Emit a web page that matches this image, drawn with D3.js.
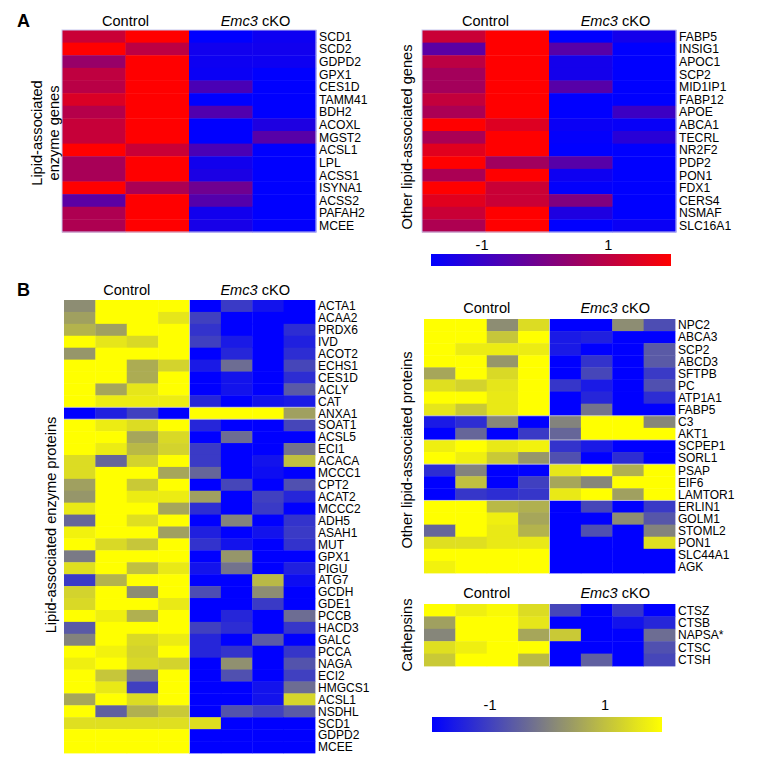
<!DOCTYPE html>
<html><head><meta charset="utf-8">
<script src="https://cdn.jsdelivr.net/npm/d3@7"></script>
<style>body{margin:0;background:#fff;} text{font-family:"Liberation Sans",Arial,Helvetica,sans-serif;fill:#000;}</style>
</head><body><svg id="c" width="764" height="760"></svg>
<script>
// ---------- DATA ----------
const groupLabels = ["Control", "Emc3 cKO"];
const colorTicks = [-1, 1];

// Panel A: lipid-associated enzyme genes (Control x2, Emc3 cKO x2)
const aEnzymeGenes = ["SCD1","SCD2","GDPD2","GPX1","CES1D","TAMM41","BDH2","ACOXL","MGST2","ACSL1","LPL","ACSS1","ISYNA1","ACSS2","PAFAH2","MCEE"];
const aEnzymeValues = [
  [1.2, 2, -1.8, -1.6],
  [2, 1.0, -1.55, -1.55],
  [0.45, 2, -1.6, -1.6],
  [1.05, 2, -1.65, -1.8],
  [0.95, 2, -0.7, -1.8],
  [1.45, 2, -1.8, -1.8],
  [0.9, 2, -0.6, -1.8],
  [1.15, 2, -1.8, -1.35],
  [1.15, 2, -1.8, -0.5],
  [2, 1.2, -0.7, -1.8],
  [0.7, 2, -1.55, -1.8],
  [0.7, 2, -1.4, -1.8],
  [2, 0.75, -0.15, -1.8],
  [-0.45, 2, -0.55, -1.8],
  [0.8, 2, -1.55, -1.8],
  [0.8, 2, -1.45, -1.75]
];

// Panel A: other lipid-associated genes
const aOtherGenes = ["FABP5","INSIG1","APOC1","SCP2","MID1IP1","FABP12","APOE","ABCA1","TECRL","NR2F2","PDP2","PON1","FDX1","CERS4","NSMAF","SLC16A1"];
const aOtherValues = [
  [1.2, 2, -1.8, -1.5],
  [-0.45, 2, -0.5, -1.8],
  [1.0, 2, -1.5, -1.8],
  [0.65, 2, -1.5, -1.8],
  [0.65, 2, -0.5, -1.8],
  [1.1, 2, -1.8, -1.8],
  [0.75, 2, -1.8, -0.9],
  [2, 1.5, -1.65, -1.7],
  [0.75, 2, -1.75, -1.2],
  [1.55, 2, -1.8, -1.8],
  [2, 0.6, -0.5, -1.8],
  [0.75, 2, -1.6, -1.8],
  [2, 1.2, -1.75, -1.8],
  [1.55, 1.2, 0.1, -1.8],
  [1.2, 2, -1.35, -1.8],
  [0.8, 2, -1.8, -1.65]
];

// Panel B: lipid-associated enzyme proteins (Control x4, Emc3 cKO x4)
const bEnzymeProteins = ["ACTA1","ACAA2","PRDX6","IVD","ACOT2","ECHS1","CES1D","ACLY","CAT","ANXA1","SOAT1","ACSL5","ECI1","ACACA","MCCC1","CPT2","ACAT2","MCCC2","ADH5","ASAH1","MUT","GPX1","PIGU","ATG7","GCDH","GDE1","PCCB","HACD3","GALC","PCCA","NAGA","ECI2","HMGCS1","ACSL1","NSDHL","SCD1","GDPD2","MCEE"];
const bEnzymeValues = [
  [0.2, 2, 2, 2, -2, -1.1, -1.7, -2],
  [0.5, 2, 2, 1.6, -1.0, -2, -2, -2],
  [0.8, 0.5, 2, 2, -1.2, -2, -2, -1.3],
  [2, 1.6, 1.4, 2, -1.0, -1.6, -2, -1.5],
  [0.35, 2, 2, 2, -2, -1.4, -2, -1.3],
  [2, 2, 0.7, 1.3, -1.6, -0.3, -2, -0.9],
  [2, 2, 0.7, 2, -2, -1.7, -2, -1.3],
  [2, 0.6, 1.6, 2, -2, -1.7, -2, -0.6],
  [2, 1.7, 1.7, 1.7, -1.4, -2, -1.7, -1.6],
  [-2, -1.5, -1.0, -2, 2, 2, 2, 0.5],
  [2, 1.7, 1.45, 2, -1.4, -2, -2, -0.9],
  [2, 2, 0.6, 1.4, -2, -0.3, -2, -2],
  [2, 1.7, 0.9, 1.3, -1.1, -2, -2, -0.2],
  [1.45, -0.4, 1.3, 2, -1.1, -2, -1.7, 1.0],
  [1.45, 2, 2, 0.6, -0.4, -2, -1.8, -2],
  [0.5, 2, 1.15, 2, -2, -0.9, -2, -0.75],
  [0.35, 2, 1.7, 1.7, 0.5, -2, -1.0, -1.4],
  [1.65, 2, 2, 0.6, -1.3, -2, -1.1, -2],
  [-0.4, 2, 1.5, 2, -2, 0.05, -2, -1.2],
  [1.8, 2, 2, 0.5, -1.5, -2, -1.7, -1.1],
  [2, 1.4, 1.1, 2, -1.2, -1.7, -2, -1.2],
  [-0.1, 2, 2, 2, -2, 0.35, -2, -2],
  [1.5, 2, 1.0, 1.65, -1.7, -0.2, -2, -1.5],
  [-1.1, 0.8, 2, 2, -2, -2, 0.9, -1.8],
  [1.3, 2, 0.2, 2, -0.8, -2, 0.2, -2],
  [1.4, 2, 2, 1.65, -2, -2, -1.1, -2],
  [2, 1.75, 0.75, 2, -2, -1.4, -2, -0.3],
  [-0.6, 2, 2, 2, -1.0, -1.3, -2, -1.15],
  [0.05, 2, 1.4, 1.7, -1.4, -2, -0.6, -2],
  [2, 1.8, 1.3, 2, -1.4, -1.2, -2, -1.15],
  [1.75, 2, 1.4, 1.3, -2, 0.25, -2, -0.7],
  [2, 1.1, -0.1, 2, -2, -0.75, -2, -1.0],
  [2, 1.65, -1.0, 2, -2, -2, -1.7, -0.3],
  [0.6, 2, 1.45, 2, -2, -2, -1.7, 1.35],
  [2, -0.5, 0.75, 1.15, -2, -0.7, -1.0, -0.6],
  [1.5, 1.5, 1.5, 1.5, 1.5, -2, -2, -2],
  [2, 2, 2, 2, -2, -2, -2, -2],
  [2, 2, 2, 2, -2, -2, -2, -2]
];
const bEnzymeBreaks = [9, 10];

// Panel B: other lipid-associated proteins
const bOtherProteins = ["NPC2","ABCA3","SCP2","ABCD3","SFTPB","PC","ATP1A1","FABP5","C3","AKT1","SCPEP1","SORL1","PSAP","EIF6","LAMTOR1","ERLIN1","GOLM1","STOML2","PON1","SLC44A1","AGK"];
const bOtherValues = [
  [2, 2, 0.2, 1.45, -2, -2, 0.2, -0.8],
  [2, 2, 1.1, 2, -1.6, -1.5, -2, -2],
  [2, 1.7, 1.7, 1.7, -1.6, -2, -2, -0.6],
  [2, 2, 0.35, 2, -2, -1.2, -2, -0.6],
  [0.6, 2, 1.4, 2, -2, -0.9, -2, -1.1],
  [1.5, 1.3, 1.6, 2, -1.15, -1.6, -2, -0.75],
  [2, 2, 1.65, 2, -2, -1.4, -2, -1.3],
  [1.6, 1.15, 1.65, 2, -2, -0.2, -2, -2],
  [-1.6, -1.3, 0.1, -2, 0.05, 2, 2, 0.1],
  [-2, -0.4, -2, -1.1, -0.4, 2, 2, 2],
  [1.75, 2, 1.65, 1.8, -1.2, -1.6, -2, -2],
  [2, 1.75, 1.15, 0.35, -0.75, -2, -1.3, -2],
  [-1.3, 0.05, -2, -2, 1.6, 2, 0.75, 2],
  [-2, 1.0, -2, -1.0, 0.6, 0.1, 2, 2],
  [-2, -1.15, -1.3, -1.15, 1.65, 2, 0.5, 2],
  [2, 2, 0.9, 0.75, -2, -0.9, -2, -1.1],
  [2, 2, 1.75, 0.6, -2, -2, 0.2, -0.65],
  [-0.4, 2, 1.65, 0.8, -2, -0.75, -2, 0.05],
  [1.5, 1.5, 1.65, 1.65, -2, -2, -2, 1.5],
  [2, 2, 2, 2, -2, -2, -2, -2],
  [1.8, 2, 2, 2, -2, -2, -2, -2]
];
const bOtherBreaks = [8, 10, 12, 15];

// Panel B: cathepsins
const bCathepsins = ["CTSZ","CTSB","NAPSA*","CTSC","CTSH"];
const bCathepsinValues = [
  [2, 1.75, 1.9, 1.45, -0.9, -2, -1.15, -2],
  [0.5, 2, 2, 1.6, -2, -2, -1.7, -1.4],
  [0.1, 2, 2, 0.6, 1.15, -2, -2, -0.3],
  [1.5, 1.75, 2, 2, -2, -2, -2, -0.75],
  [1.15, 2, 2, 0.9, -2, -0.5, -2, -0.9]
];

// ---------- DRAWING ----------
const svg = d3.select("#c");
const colorA = d3.scaleLinear().domain([-1.8, 2]).range(["#0000ff", "#ff0000"])
  .interpolate(d3.interpolateRgb).clamp(true);
const colorB = d3.scaleLinear().domain([-2, 0, 2]).range(["#0000ff", "#808080", "#ffff00"])
  .interpolate(d3.interpolateRgb).clamp(true);

function heatmap(o) {
  const g = svg.append("g");
  const nCols = o.values[0].length;
  const xs = d3.scaleBand().domain(d3.range(nCols)).range([o.x0, o.x1]);
  const ys = d3.scaleBand().domain(o.rows).range([o.y0, o.y1]);
  const cells = [];
  o.rows.forEach((r, i) => o.values[i].forEach((v, j) => cells.push({r, j, v})));
  g.selectAll("rect.cell").data(cells).join("rect")
    .attr("class", "cell")
    .attr("x", d => xs(d.j)).attr("y", d => ys(d.r))
    .attr("width", xs.bandwidth() + 0.4).attr("height", ys.bandwidth() + 0.4)
    .attr("fill", d => o.color(d.v));
  // cluster dividers
  const div = g.append("g").attr("stroke", o.divColor).attr("stroke-width", 1).attr("opacity", 0.8);
  (o.breaks || []).forEach(b => {
    const y = o.y0 + b * ys.step();
    div.append("line").attr("x1", o.x0).attr("x2", o.x1).attr("y1", y).attr("y2", y);
  });
  if (o.colBreak) {
    const x = xs(nCols / 2);
    div.append("line").attr("x1", x).attr("x2", x).attr("y1", o.y0).attr("y2", o.y1);
  }
  if (o.outline) {
    g.append("rect").attr("x", o.x0).attr("y", o.y0).attr("width", o.x1 - o.x0).attr("height", o.y1 - o.y0)
      .attr("fill", "none").attr("stroke", o.outline).attr("stroke-width", 1);
  }
  // row labels
  g.selectAll("text.row").data(o.rows).join("text")
    .attr("class", "row")
    .attr("x", o.x1 + 3).attr("y", d => ys(d) + ys.bandwidth() / 2)
    .attr("dy", "0.36em").attr("font-size", o.labelSize)
    .text(d => d);
  // group titles
  const w = o.x1 - o.x0;
  g.append("text").attr("x", o.x0 + w / 4).attr("y", o.titleY).attr("text-anchor", "middle")
    .attr("font-size", 14.6).text(groupLabels[0]);
  const parts = groupLabels[1].split(" ");
  const t = g.append("text").attr("x", o.x0 + 3 * w / 4 + 3).attr("y", o.titleY).attr("text-anchor", "middle")
    .attr("font-size", 14.6);
  t.append("tspan").attr("font-style", "italic").text(parts[0]);
  t.append("tspan").text(" " + parts.slice(1).join(" "));
  // side label
  if (o.side) {
    const st = g.append("text").attr("transform", `translate(${o.side.x},${o.side.y}) rotate(-90)`)
      .attr("text-anchor", "middle").attr("font-size", 14.6);
    o.side.lines.forEach((l, i) => st.append("tspan").attr("x", 0).attr("dy", i === 0 ? 0 : "1.15em").text(l));
  }
}

function colorbar(color, domain, x0, x1, y0, h, labelY, id) {
  const defs = svg.append("defs");
  const grad = defs.append("linearGradient").attr("id", id).attr("x1", "0%").attr("x2", "100%");
  d3.range(0, 1.0001, 0.05).forEach(t => {
    grad.append("stop").attr("offset", (t * 100) + "%").attr("stop-color", color(domain[0] + t * (domain[1] - domain[0])));
  });
  svg.append("rect").attr("x", x0).attr("y", y0).attr("width", x1 - x0).attr("height", h).attr("fill", `url(#${id})`);
  const sc = d3.scaleLinear().domain(domain).range([x0, x1]);
  const ax = svg.append("g").attr("transform", `translate(0,${labelY + 3})`)
    .call(d3.axisTop(sc).tickValues(colorTicks).tickSize(0).tickPadding(3).tickFormat(d => String(d)));
  ax.select(".domain").remove();
  ax.selectAll("text").attr("font-size", 14.5).attr("font-family", '"Liberation Sans",Arial,sans-serif').attr("fill", "#000");
}

// Panel letters
svg.append("text").attr("x", 17).attr("y", 27).attr("font-size", 18).attr("font-weight", "bold").text("A");
svg.append("text").attr("x", 17).attr("y", 296).attr("font-size", 18).attr("font-weight", "bold").text("B");

heatmap({x0: 62, x1: 316, y0: 30, y1: 232, rows: aEnzymeGenes, values: aEnzymeValues, color: colorA,
  labelSize: 12.2, titleY: 26, outline: "#c8c8f0", divColor: "#ddd",
  side: {x: 42, y: 133, lines: ["Lipid-associated", "enzyme genes"]}});
heatmap({x0: 422, x1: 676, y0: 30, y1: 232, rows: aOtherGenes, values: aOtherValues, color: colorA,
  labelSize: 12.2, titleY: 26, outline: "#c8c8f0", divColor: "#ddd",
  side: {x: 412, y: 137, lines: ["Other lipid-associated genes"]}});
colorbar(colorA, [-1.8, 2], 431, 671, 254, 12, 250, "gA");

heatmap({x0: 64, x1: 315, y0: 300, y1: 753, rows: bEnzymeProteins, values: bEnzymeValues, color: colorB,
  labelSize: 12, titleY: 295, breaks: bEnzymeBreaks, colBreak: true, divColor: "#d8d8d8",
  side: {x: 56, y: 525, lines: ["Lipid-associated enzyme proteins"]}});
heatmap({x0: 424, x1: 675, y0: 319, y1: 573, rows: bOtherProteins, values: bOtherValues, color: colorB,
  labelSize: 12, titleY: 313, breaks: bOtherBreaks, colBreak: true, divColor: "#d8d8d8",
  side: {x: 412, y: 450, lines: ["Other lipid-associated proteins"]}});
heatmap({x0: 424, x1: 675, y0: 604, y1: 666, rows: bCathepsins, values: bCathepsinValues, color: colorB,
  labelSize: 12, titleY: 598, colBreak: true, divColor: "#d8d8d8",
  side: {x: 412, y: 635, lines: ["Cathepsins"]}});
colorbar(colorB, [-2, 2], 432, 662, 717, 15, 710, "gB");
</script></body></html>
